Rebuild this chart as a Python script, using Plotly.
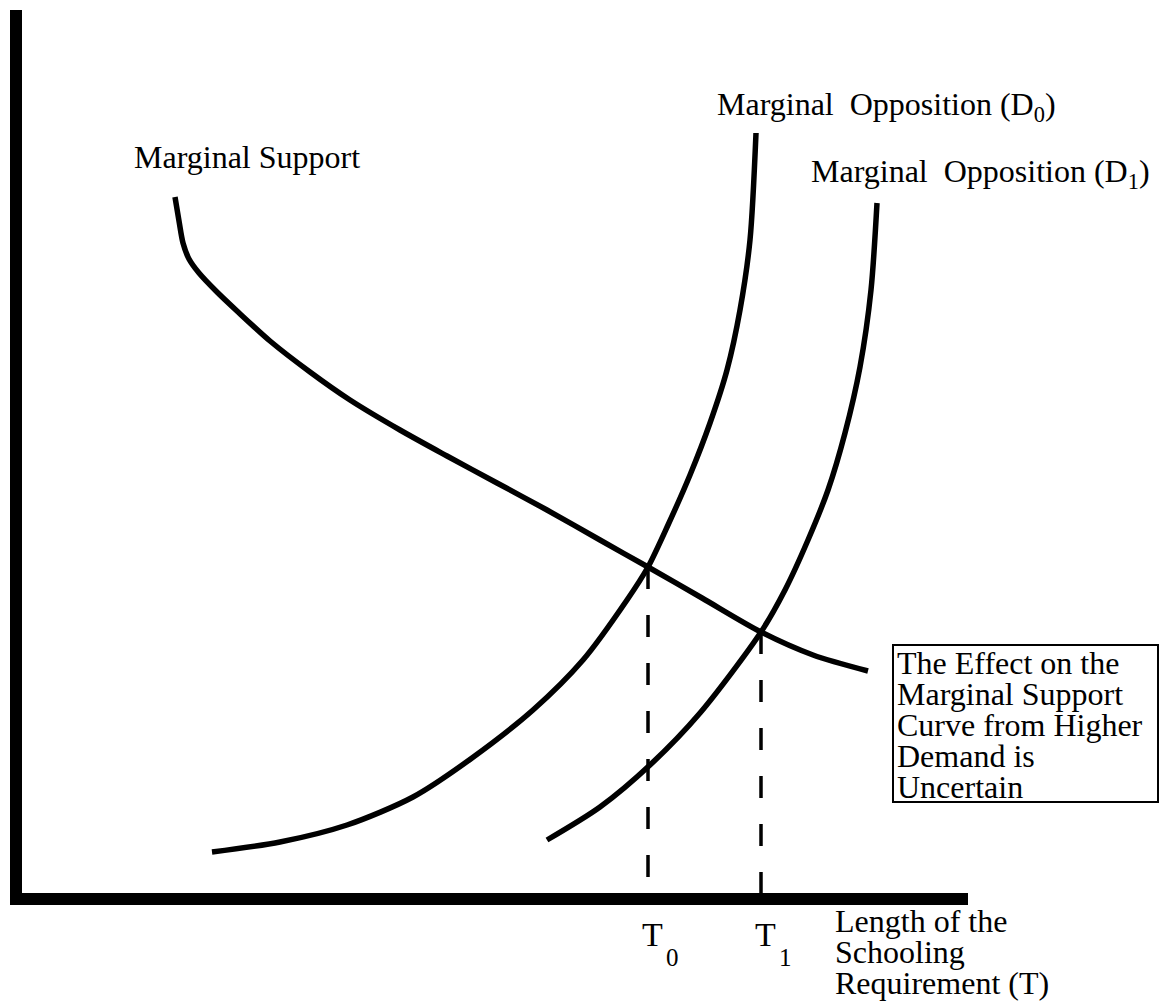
import plotly.graph_objects as go

# ---- data (arbitrary units: T on x, marginal support/opposition on y) ----
support_x = [153, 157, 161, 167, 177, 195, 215, 248, 288, 328, 378, 425, 475, 525, 578, 626, 680, 739, 791, 846]
support_y = [696, 672, 650, 634, 620, 601, 582, 552, 521, 493, 463, 437, 410, 383, 353, 326, 295, 261, 238, 222]

opp_d0_x = [190, 258, 325, 391, 450, 511, 561, 605, 626, 646, 668, 688, 705, 718, 728, 734]
opp_d0_y = [41, 51, 68, 96, 135, 183, 233, 293, 326, 368, 418, 470, 523, 583, 653, 760]

opp_d1_x = [525, 578, 628, 678, 739, 763, 786, 806, 823, 838, 849, 855]
opp_d1_y = [53, 86, 128, 180, 261, 303, 353, 403, 460, 526, 603, 690]

eq_T = [626, 739]          # T0, T1
eq_level = [326, 261]      # height of the intersections
eq_main = ["T", "T"]
eq_sub = ["0", "1"]

X_MAX, Y_MAX = 946, 883
FONT = "Liberation Serif, Times New Roman, serif"
FS = 32

fig = go.Figure()
line_style = dict(color="black", width=5.5, shape="spline", smoothing=0.8)
fig.add_trace(go.Scatter(x=support_x, y=support_y, mode="lines", line=line_style, hoverinfo="skip"))
fig.add_trace(go.Scatter(x=opp_d0_x, y=opp_d0_y, mode="lines", line=line_style, hoverinfo="skip"))
fig.add_trace(go.Scatter(x=opp_d1_x, y=opp_d1_y, mode="lines", line=line_style, hoverinfo="skip"))
for t, lv in zip(eq_T, eq_level):
    fig.add_trace(go.Scatter(x=[t, t], y=[lv, 0], mode="lines",
                             line=dict(color="black", width=3.5, dash="22px,26px"),
                             hoverinfo="skip"))


def px_(xd):
    return xd / X_MAX


def py_(yd):
    return yd / Y_MAX


def label(text, xd, yd, xanchor="left", yanchor="top", size=FS):
    fig.add_annotation(text=text, x=px_(xd), y=py_(yd), xref="paper", yref="paper",
                       xanchor=xanchor, yanchor=yanchor, showarrow=False, align="left",
                       font=dict(family=FONT, size=size, color="black"))


# curve labels
label("Marginal Support", 110, 756)
label("Marginal  Opposition (D<sub>0</sub>)", 693, 809)
label("Marginal  Opposition (D<sub>1</sub>)", 787, 742)

# equilibrium tick labels (T with a well-lowered subscript, as in the original)
for t, main, sub in zip(eq_T, eq_main, eq_sub):
    label(main, t - 8, -21, size=34)
    label(sub, t + 16, -49, size=25)

# axis title
for i, line in enumerate(["Length of the", "Schooling", "Requirement (T)"]):
    label(line, 811, -8 - 31 * i)

# boxed note
fig.add_shape(type="rect", xref="paper", yref="paper",
              x0=px_(871), x1=px_(1136), y0=py_(91), y1=py_(248),
              line=dict(color="black", width=2), fillcolor="rgba(0,0,0,0)")
for i, line in enumerate(["The Effect on the", "Marginal Support", "Curve from Higher",
                          "Demand is", "Uncertain"]):
    label(line, 873, 250 - 31 * i)

# the page adds an 8px body margin, so the figure is sized to fill the 1167x1002 window
fig.update_layout(
    width=1159, height=994,
    margin=dict(l=14, r=199, t=2, b=109),
    paper_bgcolor="white", plot_bgcolor="white",
    showlegend=False,
    xaxis=dict(range=[0, X_MAX], showline=True, linewidth=12, linecolor="black",
               showgrid=False, zeroline=False, showticklabels=False, ticks=""),
    yaxis=dict(range=[0, Y_MAX], showline=True, linewidth=12, linecolor="black",
               showgrid=False, zeroline=False, showticklabels=False, ticks=""),
)

fig.write_html("out.html")
